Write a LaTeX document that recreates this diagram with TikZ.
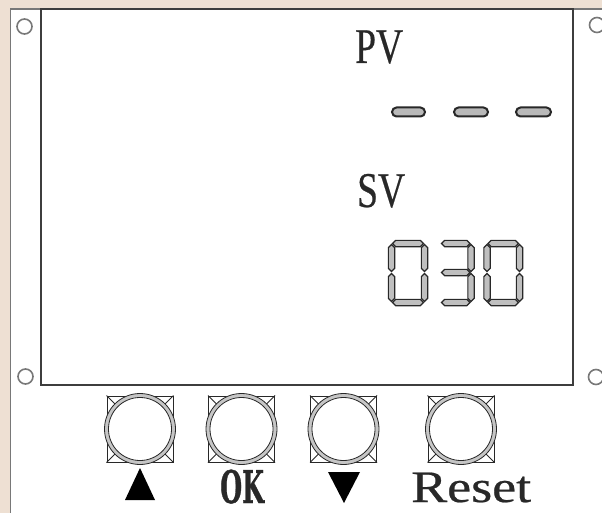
\documentclass[tikz,border=0pt]{standalone}
\usepackage{fontspec}
\setmainfont{Liberation Serif}
\newfontfamily\lblfont[FakeBold=0.5]{Liberation Serif}
\newfontfamily\okfont[BoldFeatures={FakeBold=1}]{DejaVu Serif}
\definecolor{bgbeige}{RGB}{238,224,211}
\definecolor{ink}{RGB}{40,40,40}
\definecolor{boardline}{RGB}{120,120,120}
\tikzset{
  seg/.style={draw=ink, fill=gray!50, line width=1.1pt, line join=miter},
  btnsq/.style={draw=ink, line width=1pt, minimum size=66pt, inner sep=0pt, shape=rectangle},
  ring/.style={draw=ink, line width=0.8pt},
  hole/.style={draw=boardline, line width=1.6pt},
  dashbar/.style={draw=ink, line width=2pt, fill=gray!55, rounded corners=4.5pt},
  lbl/.style={inner sep=0pt, anchor=base west, text=ink}
}
\newcommand\segH[3]{\filldraw[seg] ({#1},{#3}) -- ({#1+3.2},{#3-3.2}) -- ({#2-3.2},{#3-3.2}) -- ({#2},{#3}) -- ({#2-3.2},{#3+3.2}) -- ({#1+3.2},{#3+3.2}) -- cycle;}
\newcommand\segV[3]{\filldraw[seg] ({#1},{#2}) -- ({#1+3.2},{#2+3.2}) -- ({#1+3.2},{#3-3.2}) -- ({#1},{#3}) -- ({#1-3.2},{#3-3.2}) -- ({#1-3.2},{#2+3.2}) -- cycle;}
% digit zero: L R T M B
\newcommand\digZero[5]{\segH{#1+1}{#2-1}{#3}\segH{#1+1}{#2-1}{#5}\segV{#1}{#3+1}{#4-1}\segV{#1}{#4+1}{#5-1}\segV{#2}{#3+1}{#4-1}\segV{#2}{#4+1}{#5-1}}
\newcommand\digThree[5]{\segH{#1+1}{#2-1}{#3}\segH{#1+1}{#2-1}{#4}\segH{#1+1}{#2-1}{#5}\segV{#2}{#3+1}{#4-1}\segV{#2}{#4+1}{#5-1}}
\begin{document}
\begin{tikzpicture}[x=1pt,y=-1pt]
\useasboundingbox (0,0) rectangle (602,513);
\fill[bgbeige] (0,0) rectangle (602,513);
% board
\fill[white] (10,8) rectangle (610,520);
\draw[boardline, line width=1pt] (10,520) -- (10,8);
\draw[boardline, line width=2.5pt] (10,9) -- (610,9);
% mounting holes
\draw[hole] (24.5,26.5) circle (7.5);
\draw[hole] (597,25) circle (7.5);
\draw[hole] (25.5,376.5) circle (7.5);
\draw[hole] (596,377) circle (7.5);
% display panel
\draw[ink!90, line width=2pt] (41,9) rectangle (573,385);
% labels
\node[lbl] (pv) at (355,63) {\fontsize{50}{60}\lblfont\scalebox{0.75}[1]{PV}};
\node[lbl] (sv) at (357,207) {\fontsize{50}{60}\lblfont\scalebox{0.75}[1]{SV}};
% PV dashes
\draw[dashbar] (392,107.5) rectangle (425,116.5);
\draw[dashbar] (454,107.5) rectangle (488,116.5);
\draw[dashbar] (516,107.5) rectangle (551,116.5);
% SV digits 030
\digZero{391.5}{424.5}{243.5}{272.5}{302.5}
\digThree{440.5}{471}{243.5}{272.5}{302.5}
\digZero{487}{519.5}{243.5}{272.5}{302.5}
% buttons
\foreach \n/\cx in {b1/140, b2/241.5, b3/343.5, b4/461}{
  \node[btnsq] (\n) at (\cx,429) {};
  \draw[ring, fill=gray!45] (\n.center) circle (35.5);
  \draw[ring, fill=white] (\n.center) circle (31.5);
  \draw[ink, line width=0.8pt] (\n.north west) -- ++(8.5,8.5);
  \draw[ink, line width=0.8pt] (\n.north east) -- ++(-8.5,8.5);
  \draw[ink, line width=0.8pt] (\n.south west) -- ++(8.5,-8.5);
  \draw[ink, line width=0.8pt] (\n.south east) -- ++(-8.5,-8.5);
}
% button labels
\fill[black] (125,500) -- (155,500) -- (140,468) -- cycle;
\node[lbl] (ok) at (220,503) {\fontsize{45}{54}\okfont\bfseries\scalebox{0.56}[1]{OK}};
\fill[black] (328,472) -- (360,472) -- (344,503) -- cycle;
\node[lbl] (reset) at (411,502) {\fontsize{45}{54}\lblfont\scalebox{1.2}[1]{Reset}};
\end{tikzpicture}
\end{document}
